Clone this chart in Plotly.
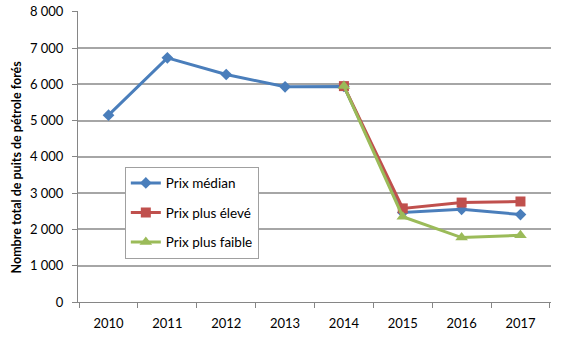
import plotly.graph_objects as go

years = ["2010", "2011", "2012", "2013", "2014", "2015", "2016", "2017"]
median_vals = [5150, 6730, 6270, 5930, 5940, 2470, 2555, 2410]
high_vals = [None, None, None, None, 5950, 2580, 2740, 2770]
low_vals = [None, None, None, None, 5950, 2350, 1775, 1840]
ytick_vals = [0, 1000, 2000, 3000, 4000, 5000, 6000, 7000, 8000]
ytick_text = ["0", "1 000", "2 000", "3 000", "4 000", "5 000", "6 000", "7 000", "8 000"]
y_title = "Nombre total de puits de pétrole forés"

FONT = "Lato, Carlito, Calibri, 'Open Sans', sans-serif"

fig = go.Figure()
fig.add_trace(go.Scatter(
    x=years, y=median_vals, name="Prix médian", legendgroup="a",
    mode="lines+markers", line=dict(color="#4A7EBB", width=3),
    marker=dict(symbol="diamond", size=9, color="#4A7EBB"),
))
fig.add_trace(go.Scatter(
    x=years, y=high_vals, name="Prix plus élevé", legendgroup="b",
    mode="lines+markers", line=dict(color="#C0504D", width=3),
    marker=dict(symbol="square", size=10, color="#C0504D"),
))
fig.add_trace(go.Scatter(
    x=years, y=low_vals, name="Prix plus faible", legendgroup="c",
    mode="lines+markers", line=dict(color="#9BBB59", width=3),
    marker=dict(symbol="triangle-up", size=11, color="#9BBB59"),
))

fig.add_annotation(
    text="<b>" + y_title + "</b>", textangle=-90,
    xref="paper", yref="paper", x=-0.13, y=0.464,
    xanchor="center", yanchor="middle", showarrow=False,
    font=dict(family=FONT, size=12.5, color="#000000"),
)

fig.update_layout(
    width=580, height=356,
    margin=dict(l=78, r=29, t=11, b=54, autoexpand=False),
    paper_bgcolor="white", plot_bgcolor="white",
    font=dict(family=FONT, size=13, color="#000000"),
    showlegend=True,
    legend=dict(
        x=0.099, y=0.465, xanchor="left", yanchor="top",
        bordercolor="#A0A0A0", borderwidth=1, bgcolor="white",
        font=dict(family=FONT, size=13.5, color="#000000"),
        tracegroupgap=9, itemwidth=30,
    ),
    xaxis=dict(
        type="category", tickson="boundaries", ticks="outside", ticklen=5,
        tickcolor="#868686", showline=True, linecolor="#868686", linewidth=1,
        showgrid=False, tickfont=dict(size=13), fixedrange=True,
        automargin=False, ticklabelstandoff=9,
    ),
    yaxis=dict(
        range=[0, 8020], tickvals=ytick_vals, ticktext=ytick_text,
        ticks="outside", ticklen=5, tickcolor="#868686",
        showline=True, linecolor="#868686", linewidth=1,
        showgrid=True, gridcolor="#A6A6A6", gridwidth=1.5,
        zeroline=False, tickfont=dict(size=13), automargin=False,
        ticklabelstandoff=6, ticklabeloverflow="allow", fixedrange=True,
    ),
)

fig.write_html(
    "out.html",
    config={"displayModeBar": False},
    post_script="document.body.style.margin='0';document.body.style.overflow='hidden';",
)
